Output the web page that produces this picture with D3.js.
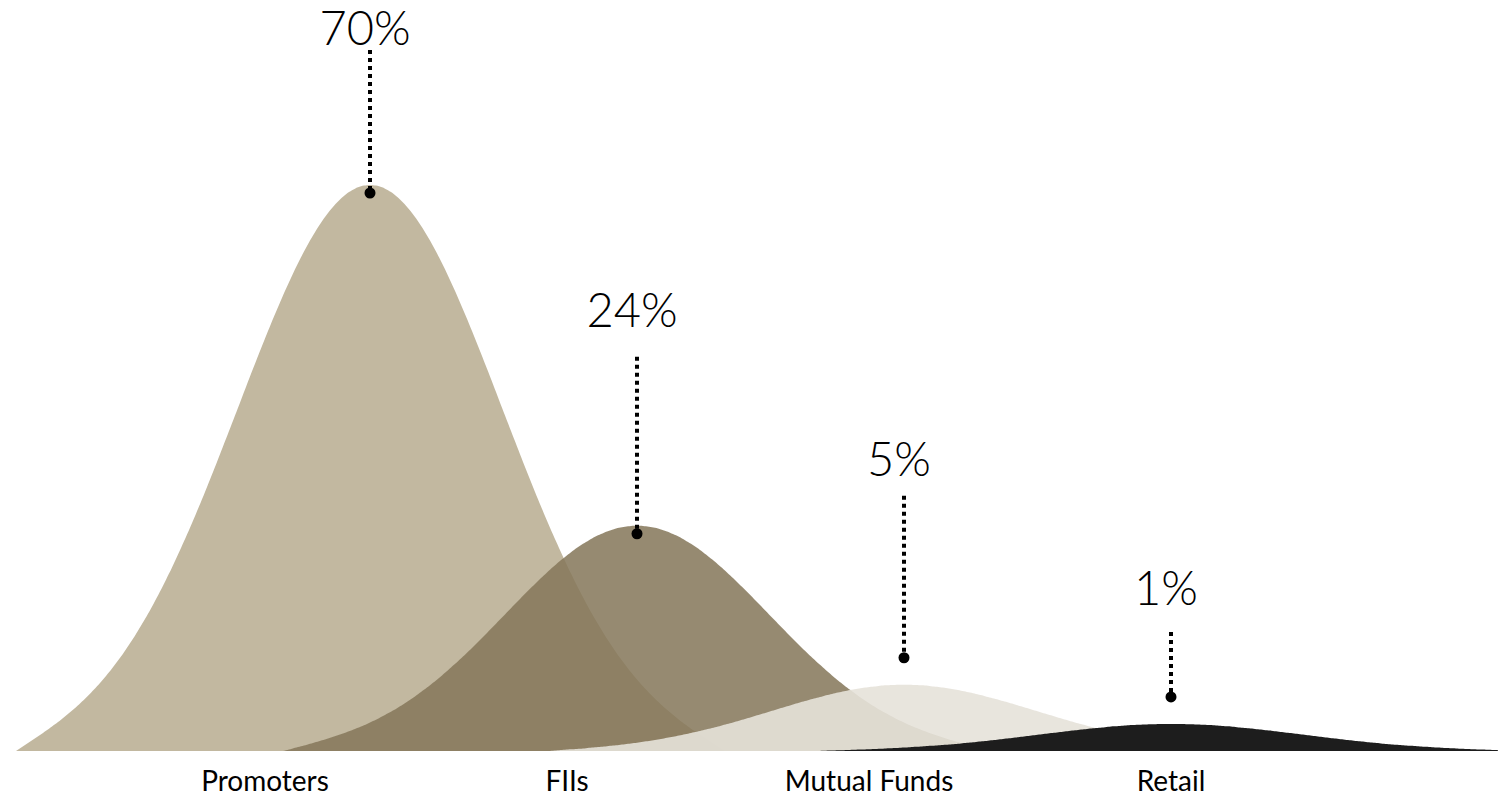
<!DOCTYPE html>
<html>
<head>
<meta charset="utf-8">
<script src="https://cdn.jsdelivr.net/npm/d3@7"></script>
<style>
    html, body { margin: 0; padding: 0; background: #fff; }
    svg { display: block; }
    text { font-family: "Century Gothic", "URW Gothic", "Lato", "Open Sans", sans-serif; fill: #000; }
</style>
</head>
<body>
<div id="viz"></div>
<script>
// shareholding split
const categories = ["Promoters", "FIIs", "Mutual Funds", "Retail"];
const shares = [70, 24, 5, 1];
const shareLabels = ["70%", "24%", "5%", "1%"];

// annotation layout: text baseline lift above the dot, and gap under the text
const labelLift = [148, 207, 182, 92];
const leaderGap = [5, 30, 20, 27];

document.addEventListener("DOMContentLoaded", () => {
    const width = 1498;
    const height = 799;
    const baseY = 751;

    const svg = d3.select('#viz').append('svg')
        .attr('width', width)
        .attr('height', height);

    const peakX = d3.scalePoint().domain(categories).range([370, 1171]);
    const labelX = d3.scalePoint().domain(categories).range([265, 1171]);
    const y = d3.scalePow().exponent(0.9)
        .domain([0, d3.max(shares)])
        .range([baseY - 15, 185]);

    const color = d3.scaleOrdinal()
        .domain(categories)
        .range(['#c2b8a0', '#85775a', '#e6e2d9', '#1a1a1a']);
    const opacity = d3.scaleOrdinal()
        .domain(categories)
        .range([1, 0.86, 0.9, 0.99]);

    const sigma = 132;
    const reach = 354;
    const gEdge = Math.exp(-reach * reach / (2 * sigma * sigma));

    const bell = (cat, v) => {
        const cx = peakX(cat);
        const h = baseY - y(v);
        return d3.range(-reach, reach + 0.1, 3).map(t => {
            const g = Math.exp(-t * t / (2 * sigma * sigma)) - gEdge * Math.pow(Math.abs(t) / reach, 8);
            return [cx + t, baseY - h * Math.max(0, g)];
        });
    };

    const area = d3.area()
        .x(p => p[0])
        .y0(baseY)
        .y1(p => p[1])
        .curve(d3.curveMonotoneX);

    const rows = categories.map((c, i) => ({ cat: c, value: shares[i], label: shareLabels[i], i: i }));

    svg.append('g').selectAll('path')
        .data(rows)
        .enter()
        .append('path')
        .attr('d', d => area(bell(d.cat, d.value)))
        .attr('fill', d => color(d.cat))
        .attr('fill-opacity', d => opacity(d.cat));

    // dot sits just inside tall peaks, above the low ones
    const dotY = d => {
        const top = y(d.value);
        return baseY - top > 100 ? top + 8 : top - 27;
    };

    const notes = svg.append('g').selectAll('g')
        .data(rows)
        .enter()
        .append('g');

    notes.append('line')
        .attr('x1', d => peakX(d.cat))
        .attr('x2', d => peakX(d.cat))
        .attr('y1', d => dotY(d) - labelLift[d.i] + leaderGap[d.i])
        .attr('y2', d => dotY(d))
        .attr('stroke', '#000')
        .attr('stroke-width', 4)
        .attr('stroke-dasharray', '4 4');

    notes.append('circle')
        .attr('cx', d => peakX(d.cat))
        .attr('cy', d => dotY(d))
        .attr('r', 5.5)
        .attr('fill', '#000');

    notes.append('text')
        .attr('x', d => peakX(d.cat) - 5)
        .attr('y', d => dotY(d) - labelLift[d.i])
        .attr('text-anchor', 'middle')
        .attr('font-size', 47)
        .attr('font-weight', 300)
        .text(d => d.label);

    svg.append('g').selectAll('text')
        .data(rows)
        .enter()
        .append('text')
        .attr('x', d => labelX(d.cat))
        .attr('y', 791)
        .attr('text-anchor', 'middle')
        .attr('font-size', 28)
        .text(d => d.cat);
});
</script>
</body>
</html>
